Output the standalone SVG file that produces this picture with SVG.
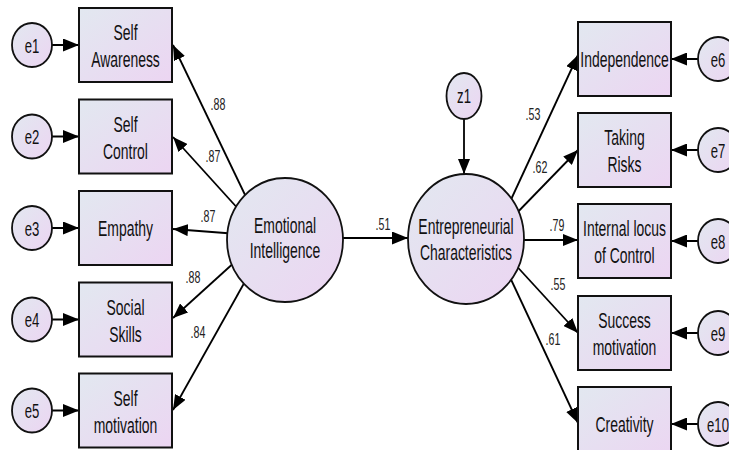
<svg xmlns="http://www.w3.org/2000/svg" width="729" height="450" viewBox="0 0 729 450">
<defs>
<linearGradient id="fill" x1="0" y1="0" x2="1" y2="1">
<stop offset="0" stop-color="#e2e8f0"/>
<stop offset="1" stop-color="#ecd5f2"/>
</linearGradient>
<marker id="ah" viewBox="0 0 15 12" refX="15" refY="6" markerWidth="15" markerHeight="12" markerUnits="userSpaceOnUse" orient="auto">
<path d="M0,0 L15,6 L0,12 z" fill="#000"/>
</marker>
<marker id="ah2" viewBox="0 0 16 13" refX="16" refY="6.5" markerWidth="16" markerHeight="13" markerUnits="userSpaceOnUse" orient="auto">
<path d="M0,0 L16,6.5 L0,13 z" fill="#000"/>
</marker>
</defs>
<style>
.box{fill:url(#fill);stroke:#111;stroke-width:2}
.ell{fill:url(#fill);stroke:#111;stroke-width:1.8}
.t{font-family:"Liberation Sans",Arial,sans-serif;font-size:17px;text-anchor:middle;fill:#111}
.e{font-size:16px}
.n{font-family:"Liberation Sans",Arial,sans-serif;font-size:13px;text-anchor:middle;fill:#222}
.c{stroke:#000;stroke-width:1.8;fill:none;marker-end:url(#ah)}
.c2{stroke:#000;stroke-width:2;fill:none;marker-end:url(#ah2)}
</style>
<rect width="729" height="450" fill="#fff"/>

<g id="connectors">
<line class="c2" x1="52" y1="45" x2="79" y2="45"/>
<line class="c2" x1="52" y1="136.5" x2="79" y2="136.5"/>
<line class="c2" x1="52" y1="228" x2="79" y2="228"/>
<line class="c2" x1="52" y1="319.5" x2="79" y2="319.5"/>
<line class="c2" x1="52" y1="410.5" x2="79" y2="410.5"/>
<line class="c2" x1="698" y1="59" x2="671" y2="59"/>
<line class="c2" x1="698" y1="150" x2="671" y2="150"/>
<line class="c2" x1="698" y1="241" x2="671" y2="241"/>
<line class="c2" x1="698" y1="333" x2="671" y2="333"/>
<line class="c2" x1="698" y1="424" x2="671" y2="424"/>
<line class="c" x1="247" y1="199" x2="173" y2="45"/>
<line class="c" x1="241" y1="212" x2="173" y2="137"/>
<line class="c" x1="238" y1="234" x2="173" y2="229"/>
<line class="c" x1="237" y1="260" x2="173" y2="318"/>
<line class="c" x1="247" y1="278" x2="173" y2="410"/>
<line class="c2" x1="335" y1="238" x2="408" y2="238"/>
<line class="c" x1="464" y1="118" x2="464" y2="174"/>
<line class="c" x1="508" y1="206" x2="578" y2="55"/>
<line class="c" x1="511" y1="219" x2="578" y2="150"/>
<line class="c" x1="513" y1="240" x2="578" y2="240"/>
<line class="c" x1="511" y1="260" x2="578" y2="333"/>
<line class="c" x1="508" y1="273" x2="578" y2="423"/>
<g class="n">
<text transform="translate(218,110) scale(0.82,1.3)">.88</text>
<text transform="translate(213,162) scale(0.82,1.3)">.87</text>
<text transform="translate(208,222) scale(0.82,1.3)">.87</text>
<text transform="translate(193,283) scale(0.82,1.3)">.88</text>
<text transform="translate(198,338) scale(0.82,1.3)">.84</text>
<text transform="translate(383,230) scale(0.82,1.3)">.51</text>
<text transform="translate(533,120) scale(0.82,1.3)">.53</text>
<text transform="translate(540,173) scale(0.82,1.3)">.62</text>
<text transform="translate(557,231) scale(0.82,1.3)">.79</text>
<text transform="translate(558,290) scale(0.82,1.3)">.55</text>
<text transform="translate(553,345) scale(0.82,1.3)">.61</text>
</g>
</g>

<g id="e1" transform="translate(32,45)"><ellipse class="ell" rx="20" ry="22"/><text class="t e" transform="scale(0.82,1.3)" y="5.8">e1</text></g>
<g id="e2" transform="translate(32,136.5)"><ellipse class="ell" rx="20" ry="22"/><text class="t e" transform="scale(0.82,1.3)" y="5.8">e2</text></g>
<g id="e3" transform="translate(32,228)"><ellipse class="ell" rx="20" ry="22"/><text class="t e" transform="scale(0.82,1.3)" y="5.8">e3</text></g>
<g id="e4" transform="translate(32,319.5)"><ellipse class="ell" rx="20" ry="22"/><text class="t e" transform="scale(0.82,1.3)" y="5.8">e4</text></g>
<g id="e5" transform="translate(32,410.5)"><ellipse class="ell" rx="20" ry="22"/><text class="t e" transform="scale(0.82,1.3)" y="5.8">e5</text></g>

<g id="self-awareness" transform="translate(125.5,45)"><rect class="box" x="-46.5" y="-37" width="93" height="74"/><text class="t" transform="scale(0.82,1.3)"><tspan x="0" y="-3.8">Self</tspan><tspan x="0" y="17">Awareness</tspan></text></g>
<g id="self-control" transform="translate(125.5,136.5)"><rect class="box" x="-46.5" y="-37" width="93" height="74"/><text class="t" transform="scale(0.82,1.3)"><tspan x="0" y="-3.8">Self</tspan><tspan x="0" y="17">Control</tspan></text></g>
<g id="empathy" transform="translate(125.5,228)"><rect class="box" x="-46.5" y="-37" width="93" height="74"/><text class="t" transform="scale(0.82,1.3)" y="5.8">Empathy</text></g>
<g id="social-skills" transform="translate(125.5,319.5)"><rect class="box" x="-46.5" y="-37" width="93" height="74"/><text class="t" transform="scale(0.82,1.3)"><tspan x="0" y="-3.8">Social</tspan><tspan x="0" y="17">Skills</tspan></text></g>
<g id="self-motivation" transform="translate(125.5,410.5)"><rect class="box" x="-46.5" y="-37" width="93" height="74"/><text class="t" transform="scale(0.82,1.3)"><tspan x="0" y="-3.8">Self</tspan><tspan x="0" y="17">motivation</tspan></text></g>

<g id="emotional-intelligence" transform="translate(285,240)"><ellipse class="ell" rx="58" ry="62"/><text class="t" transform="scale(0.82,1.3)"><tspan x="0" y="-5.4">Emotional</tspan><tspan x="0" y="13.8">Intelligence</tspan></text></g>

<g id="z1" transform="translate(464,96)"><ellipse class="ell" rx="17.5" ry="23"/><text class="t e" transform="scale(0.82,1.3)" y="5">z1</text></g>

<g id="entrepreneurial-characteristics" transform="translate(466,239)"><ellipse class="ell" rx="58" ry="65"/><text class="t" transform="scale(0.82,1.3)"><tspan x="0" y="-3.5">Entrepreneurial</tspan><tspan x="0" y="15.8">Characteristics</tspan></text></g>

<g id="independence" transform="translate(624.5,59)"><rect class="box" x="-46.5" y="-37" width="93" height="74"/><text class="t" transform="scale(0.82,1.3)" y="5.8">Independence</text></g>
<g id="taking-risks" transform="translate(624.5,150)"><rect class="box" x="-46.5" y="-37" width="93" height="74"/><text class="t" transform="scale(0.82,1.3)"><tspan x="0" y="-3.8">Taking</tspan><tspan x="0" y="17">Risks</tspan></text></g>
<g id="internal-locus" transform="translate(624.5,241)"><rect class="box" x="-46.5" y="-37" width="93" height="74"/><text class="t" transform="scale(0.82,1.3)"><tspan x="0" y="-3.8">Internal locus</tspan><tspan x="0" y="17">of Control</tspan></text></g>
<g id="success-motivation" transform="translate(624.5,333)"><rect class="box" x="-46.5" y="-37" width="93" height="74"/><text class="t" transform="scale(0.82,1.3)"><tspan x="0" y="-3.8">Success</tspan><tspan x="0" y="17">motivation</tspan></text></g>
<g id="creativity" transform="translate(624.5,424)"><rect class="box" x="-46.5" y="-37" width="93" height="74"/><text class="t" transform="scale(0.82,1.3)" y="5.8">Creativity</text></g>

<g id="e6" transform="translate(718,59)"><ellipse class="ell" rx="20" ry="22"/><text class="t e" transform="scale(0.82,1.3)" y="5.8">e6</text></g>
<g id="e7" transform="translate(718,150)"><ellipse class="ell" rx="20" ry="22"/><text class="t e" transform="scale(0.82,1.3)" y="5.8">e7</text></g>
<g id="e8" transform="translate(718,241)"><ellipse class="ell" rx="20" ry="22"/><text class="t e" transform="scale(0.82,1.3)" y="5.8">e8</text></g>
<g id="e9" transform="translate(718,333)"><ellipse class="ell" rx="20" ry="22"/><text class="t e" transform="scale(0.82,1.3)" y="5.8">e9</text></g>
<g id="e10" transform="translate(718,424)"><ellipse class="ell" rx="20" ry="22"/><text class="t e" transform="scale(0.82,1.3)" y="5.8">e10</text></g>
</svg>
